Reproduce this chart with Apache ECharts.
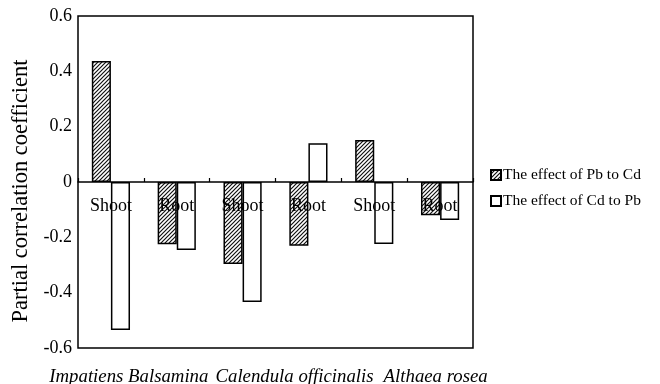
<!DOCTYPE html>
<html><head><meta charset="utf-8">
<script src="https://cdn.jsdelivr.net/npm/echarts@6/dist/echarts.min.js"></script>
<style>html,body{margin:0;padding:0;background:#fff}#c{width:660px;height:384px}</style>
</head><body><div id="c"></div>
<script>
const parts = ['Shoot','Root','Shoot','Root','Shoot','Root'];
const species = ['Impatiens Balsamina','Calendula officinalis','Althaea rosea'];
const pbToCd = [0.437, -0.225, -0.296, -0.23, 0.152, -0.12];
const cdToPb = [-0.535, -0.246, -0.434, 0.14, -0.224, -0.137];
const seriesNames = ['The effect of Pb to Cd','The effect of Cd to Pb'];

const FONT = "'Liberation Serif','DejaVu Serif',serif";
function hatch(){
  const s = 4;
  const c = document.createElement('canvas');
  c.width = s; c.height = s;
  const g = c.getContext('2d');
  g.fillStyle = '#fff'; g.fillRect(0,0,s,s);
  g.strokeStyle = '#111'; g.lineWidth = 1.2;
  g.beginPath();
  g.moveTo(-1,s+1); g.lineTo(s+1,-1);
  g.moveTo(-1,1); g.lineTo(1,-1);
  g.moveTo(s-1,s+1); g.lineTo(s+1,s-1);
  g.stroke();
  return c;
}
const grid = {left:78,right:187,top:16,bottom:36};
const chart = echarts.init(document.getElementById('c'), null, {renderer:'canvas'});
const yMin = -0.6, yMax = 0.6;
const plotH = 384 - grid.top - grid.bottom;
const zeroOffset = plotH * yMax / (yMax - yMin);
chart.setOption({
  animation:false,
  backgroundColor:'#fff',
  textStyle:{fontFamily:FONT},
  grid:Object.assign({show:true,borderColor:'#000',borderWidth:1.5,backgroundColor:'transparent',outerBoundsMode:'none',containLabel:false}, grid),
  legend:{
    orient:'vertical', left:485, top:162, itemWidth:10, itemHeight:10, itemGap:10, icon:'rect',
    textStyle:{fontFamily:FONT,fontSize:15.5,color:'#000',padding:[0,0,0,-3]},
    data:seriesNames
  },
  xAxis:[
    {type:'category', data:parts, gridIndex:0, position:'top', offset:-zeroOffset,
     axisLine:{onZero:false,lineStyle:{color:'#000',width:1.5}},
     axisTick:{show:true,inside:false,length:4,lineStyle:{color:'#000',width:1.2}},
     axisLabel:{inside:true,interval:0,fontFamily:FONT,fontSize:18,color:'#000',margin:15},
     z:10},
    {type:'category', data:[
        {value:species[0], textStyle:{padding:[0,30,0,0]}},
        {value:species[1], textStyle:{padding:[0,0,0,38]}},
        {value:species[2], textStyle:{padding:[0,0,0,57]}}
      ], gridIndex:0, position:'bottom',
     axisLine:{show:false}, axisTick:{show:false},
     axisLabel:{interval:0,hideOverlap:false,fontFamily:FONT,fontSize:18.8,fontStyle:'italic',color:'#000',margin:20}}
  ],
  yAxis:{type:'value', min:yMin, max:yMax, interval:0.2,
    name:'Partial correlation coefficient', nameLocation:'middle', nameGap:45,
    nameTextStyle:{fontFamily:FONT,fontSize:22.5,color:'#000',padding:[0,18,0,0]},
    axisLine:{show:false}, axisTick:{show:false}, splitLine:{show:false},
    axisLabel:{fontFamily:FONT,fontSize:18,color:'#000',margin:6,
      formatter:v=>Math.abs(v)<1e-9?'0':v.toFixed(1)}},
  series:[
    {name:seriesNames[0], type:'bar', xAxisIndex:0, data:pbToCd, barWidth:'29%', barGap:'0%',
     itemStyle:{color:{image:hatch(),repeat:'repeat'},borderColor:'#000',borderWidth:1.5}},
    {name:seriesNames[1], type:'bar', xAxisIndex:0, data:cdToPb, barWidth:'29%', barGap:'0%',
     itemStyle:{color:'#fff',borderColor:'#000',borderWidth:1.5}}
  ]
});
</script></body></html>
